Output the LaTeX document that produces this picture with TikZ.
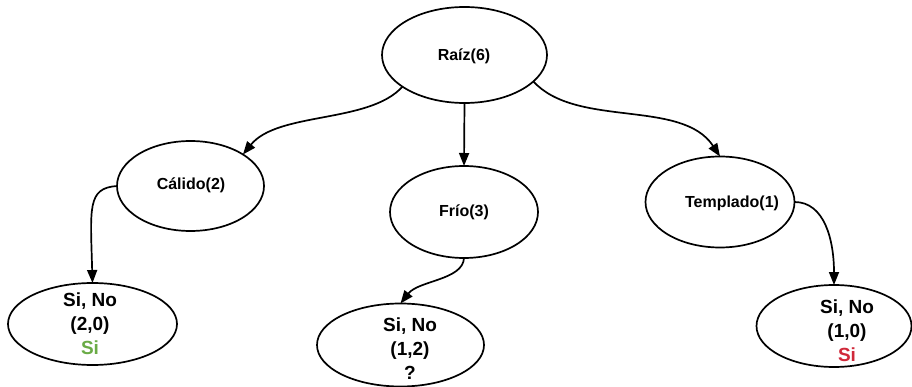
\documentclass[tikz,border=0pt]{standalone}
\usepackage{fontspec}
\setmainfont{Liberation Sans}
\usetikzlibrary{arrows.meta,shapes.geometric}
\definecolor{sigreen}{HTML}{6AAB46}
\definecolor{sired}{HTML}{D0293A}
\begin{document}
\begin{tikzpicture}[x=1pt,y=-1pt,
  ell/.style={draw=black,line width=1.7pt,ellipse,inner sep=0pt,outer sep=0pt},
  intext/.style={inner sep=0pt,font=\fontsize{16}{19}\selectfont\bfseries},
  leaftext/.style={inner sep=0pt,align=center,font=\fontsize{19}{24}\selectfont\bfseries},
  conn/.style={draw=black,line width=1.7pt,-{Triangle[length=13pt,width=10pt]}}
]
\useasboundingbox (0,0) rectangle (912,387);
% inner nodes
\node[ell,minimum width=165pt,minimum height=96pt] (root) at (464.5,55) {};
\node[intext] (roott) at (464,56) {Raíz(6)};
\node[ell,minimum width=147pt,minimum height=90pt] (cal) at (190.5,186) {};
\node[intext] (calt) at (191,185) {Cálido(2)};
\node[ell,minimum width=148pt,minimum height=92pt] (frio) at (464,212) {};
\node[intext] (friot) at (464,212) {Frío(3)};
\node[ell,minimum width=149pt,minimum height=91pt] (temp) at (720,202) {};
\node[intext] (tempt) at (732,203) {Templado(1)};
% leaves
\node[ell,minimum width=169pt,minimum height=82pt] (l1) at (92.5,324) {};
\node[leaftext] (l1t) at (90,324) {Si, No\\(2,0)\\\textcolor{sigreen}{Si}};
\node[ell,minimum width=167pt,minimum height=83pt] (l2) at (400.5,345) {};
\node[leaftext] (l2t) at (410,349) {Si, No\\(1,2)\\?};
\node[ell,minimum width=155pt,minimum height=82pt] (l3) at (834,326) {};
\node[leaftext] (l3t) at (847,331) {Si, No\\(1,0)\\\textcolor{sired}{Si}};
% connectors
\draw[conn] (root.207) .. controls +(-33,37) and +(35,-43) .. (cal.31);
\draw[conn] (root.south) -- (frio.north);
\draw[conn] (root.339) .. controls +(43,47) and +(-38,-58) .. (temp.north);
\draw[conn] (cal.west) .. controls +(-30,2) and +(-2,-75) .. (l1.north);
\draw[conn] (frio.south) .. controls +(-1,22) and +(18,-23) .. (l2.north);
\draw[conn] (temp.east) .. controls +(30,0) and +(0,-45) .. (l3.north);
\end{tikzpicture}
\end{document}
